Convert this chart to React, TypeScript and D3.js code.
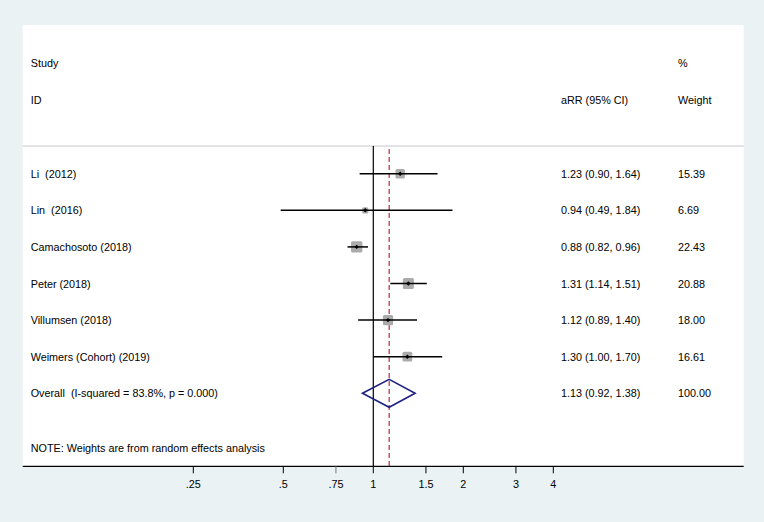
import React from "react";
import * as d3 from "d3";

const studies = ["Li  (2012)", "Lin  (2016)", "Camachosoto (2018)", "Peter (2018)", "Villumsen (2018)", "Weimers (Cohort) (2019)"];
const estimates = [1.23, 0.94, 0.88, 1.31, 1.12, 1.30];
const lowerCI = [0.90, 0.49, 0.82, 1.14, 0.89, 1.00];
const upperCI = [1.64, 1.84, 0.96, 1.51, 1.40, 1.70];
const weights = [15.39, 6.69, 22.43, 20.88, 18.00, 16.61];
const overallLabel = "Overall  (I-squared = 83.8%, p = 0.000)";
const overall = [1.13, 0.92, 1.38];
const overallWeight = 100.0;
const tickValues = [0.25, 0.5, 0.75, 1, 1.5, 2, 3, 4];
const tickLabels = [".25", ".5", ".75", "1", "1.5", "2", "3", "4"];

const W = 764;
const H = 522;
const FONT = "'Liberation Sans', Arial, sans-serif";

export default function App() {
  const x = d3.scaleLog().domain([0.25, 4]).range([193.3, 553.3]);
  const y = d3.scaleLinear().domain([0, 6]).range([173.7, 393.3]);
  const sq = d3.scaleSqrt().domain([0, 100]).range([0, 24]);
  const fmt = d3.format(".2f");
  const plotL = 22.7, plotR = 743.7, plotT = 25, axisY = 466.3, sepY = 146;
  const colVal = 561, colW = 678, colLabel = 30.7;
  const txt = { fontFamily: FONT, fontSize: 10.8, fill: "#000", whiteSpace: "pre" as const };

  const ov = overall;
  const oy = y(6);
  const diamond = `M${x(ov[1])},${oy} L${x(ov[0])},${oy - 14} L${x(ov[2])},${oy} L${x(ov[0])},${oy + 14} Z`;

  return (
    <svg width={W} height={H} style={{ position: "absolute", left: 0, top: 0 }}>
      <rect x={0} y={0} width={W} height={H} fill="#EAF2F3" />
      <rect x={plotL} y={plotT} width={plotR - plotL} height={axisY - plotT} fill="#fff" />

      {/* headers */}
      <text x={colLabel} y={63.3} dominantBaseline="central" style={txt}>Study</text>
      <text x={colLabel} y={100} dominantBaseline="central" style={txt}>ID</text>
      <text x={colVal} y={100} dominantBaseline="central" style={txt}>aRR (95% CI)</text>
      <text x={colW} y={63.3} dominantBaseline="central" style={txt}>%</text>
      <text x={colW} y={100} dominantBaseline="central" style={txt}>Weight</text>

      <line x1={plotL} x2={plotR} y1={sepY} y2={sepY} stroke="#C8C8C8" strokeWidth={1} />

      {/* null line */}
      <line x1={x(1)} x2={x(1)} y1={sepY} y2={axisY} stroke="#000" strokeWidth={1.2} />
      {/* overall dashed line */}
      <line x1={x(ov[0])} x2={x(ov[0])} y1={sepY + 3} y2={axisY} stroke="#B01C30" strokeWidth={1.1} strokeDasharray="5,3" />

      {studies.map((s, i) => {
        const cy = y(i);
        const side = sq(weights[i]);
        const cx = x(estimates[i]);
        return (
          <g key={s}>
            <rect x={cx - side / 2} y={cy - side / 2} width={side} height={side} rx={1.5} fill="#ABABAB" />
            <line x1={x(lowerCI[i])} x2={x(upperCI[i])} y1={cy} y2={cy} stroke="#000" strokeWidth={1.5} />
            <path d={`M${cx - 2.2},${cy} L${cx},${cy - 2.2} L${cx + 2.2},${cy} L${cx},${cy + 2.2} Z`} fill="#000" />
            <text x={colLabel} y={cy} dominantBaseline="central" style={txt}>{s}</text>
            <text x={colVal} y={cy} dominantBaseline="central" style={txt}>
              {`${fmt(estimates[i])} (${fmt(lowerCI[i])}, ${fmt(upperCI[i])})`}
            </text>
            <text x={colW} y={cy} dominantBaseline="central" style={txt}>{fmt(weights[i])}</text>
          </g>
        );
      })}

      <path d={diamond} fill="none" stroke="#1E2280" strokeWidth={1.6} />
      <text x={colLabel} y={oy} dominantBaseline="central" style={txt}>{overallLabel}</text>
      <text x={colVal} y={oy} dominantBaseline="central" style={txt}>
        {`${fmt(ov[0])} (${fmt(ov[1])}, ${fmt(ov[2])})`}
      </text>
      <text x={colW} y={oy} dominantBaseline="central" style={txt}>{fmt(overallWeight)}</text>

      <text x={colLabel} y={448.3} dominantBaseline="central" style={txt}>NOTE: Weights are from random effects analysis</text>

      {/* axis */}
      <line x1={plotL} x2={plotR} y1={axisY} y2={axisY} stroke="#000" strokeWidth={1.2} />
      {tickValues.map((t, i) => (
        <g key={t}>
          <line x1={x(t)} x2={x(t)} y1={axisY} y2={axisY + 7} stroke={t === 0.75 ? "#777" : "#000"} strokeWidth={1} />
          <text x={x(t)} y={484} textAnchor="middle" dominantBaseline="central" style={txt}>{tickLabels[i]}</text>
        </g>
      ))}
    </svg>
  );
}
